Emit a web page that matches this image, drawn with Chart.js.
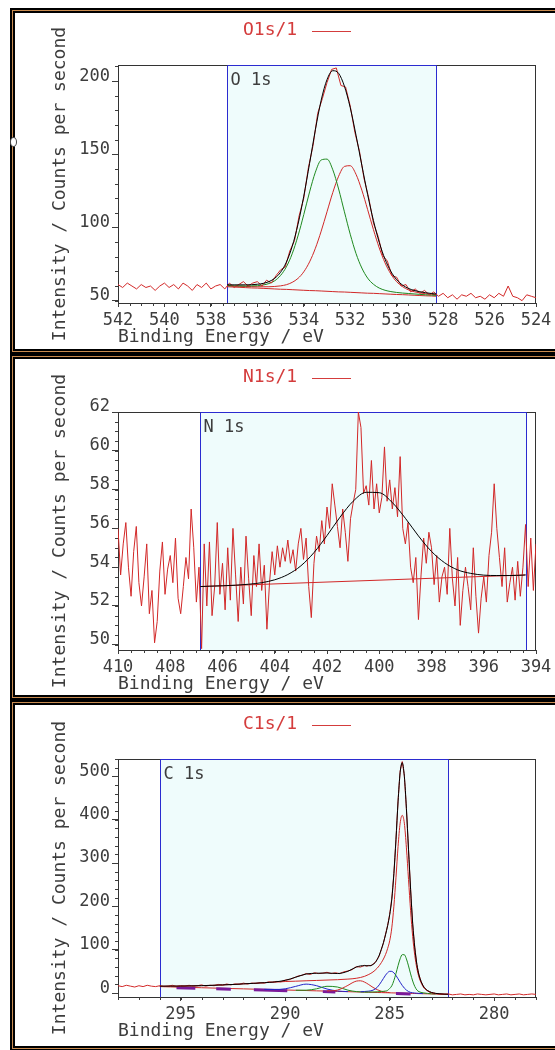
<!DOCTYPE html>
<html lang="en">
<head>
<meta charset="UTF-8" />
<title>XPS O1s / N1s / C1s</title>
<script src="https://cdn.jsdelivr.net/npm/chart.js"></script>
<style>
  html, body { margin: 0; padding: 0; background: #fff; }
  body { width: 555px; height: 1050px; overflow: hidden; position: relative; }
  .panel {
    position: absolute; left: 10px; width: 580px; box-sizing: border-box;
    border: 2px solid #000;
    box-shadow: inset 0 0 0 1px #c98b4f, inset 0 0 0 3px #000;
    background: #fff;
  }
  canvas { position: absolute; left: 17px; }
  .mark {
    position: absolute; left: 10px; top: 137px; width: 5px; height: 8px;
    border: 1px solid #444; border-radius: 50%; background: #fff;
  }
</style>
</head>
<body>
<div class="panel" style="top: 8px; height: 346px"></div>
<div class="panel" style="top: 354px; height: 346px"></div>
<div class="panel" style="top: 700px; height: 351px"></div>
<div class="mark"></div>
<canvas id="o1sChart" width="538" height="336" style="top: 16px"></canvas>
<canvas id="n1sChart" width="538" height="336" style="top: 363px"></canvas>
<canvas id="c1sChart" width="538" height="336" style="top: 710px"></canvas>

<script>
// ---------- O 1s ----------
const o1sRegion = [537.3, 528.3];
const o1sEnergy = [
  542.0, 541.8, 541.6, 541.4, 541.2, 541.0, 540.8, 540.6, 540.4, 540.2,
  540.0, 539.8, 539.6, 539.4, 539.2, 539.0, 538.8, 538.6, 538.4, 538.2,
  538.0, 537.8, 537.6, 537.4, 537.2, 537.0, 536.8, 536.6, 536.4, 536.2,
  536.0, 535.8, 535.6, 535.4, 535.2, 535.0, 534.8, 534.6, 534.4, 534.2,
  534.0, 533.8, 533.6, 533.4, 533.2, 533.0, 532.8, 532.6, 532.4, 532.2,
  532.0, 531.8, 531.6, 531.4, 531.2, 531.0, 530.8, 530.6, 530.4, 530.2,
  530.0, 529.8, 529.6, 529.4, 529.2, 529.0, 528.8, 528.6, 528.4, 528.2,
  528.0, 527.8, 527.6, 527.4, 527.2, 527.0, 526.8, 526.6, 526.4, 526.2,
  526.0, 525.8, 525.6, 525.4, 525.2, 525.0, 524.8, 524.6, 524.4, 524.2,
  524.0
];
const o1sCounts = [
  61, 59, 62, 60, 58, 61, 59, 60, 57, 60,
  62, 59, 61, 58, 62, 60, 57, 61, 59, 62,
  58, 60, 61, 58, 62, 59, 61, 63, 60, 62,
  63, 60, 64, 62, 67, 71, 73, 84, 91, 108,
  120, 141, 156, 178, 188, 199, 208, 209, 197, 196,
  183, 165, 152, 133, 120, 103, 94, 81, 77, 67,
  66, 60, 61, 56, 58, 55, 57, 54, 56, 53,
  55, 52, 54, 51, 54, 53, 55, 52, 53, 51,
  54, 52, 55, 53, 60, 53, 52, 50, 54, 53,
  52
];
const o1sFitEnergy = [
  537.3, 537.0, 536.75, 536.5, 536.25, 536.0, 535.75, 535.5, 535.25, 535.0,
  534.75, 534.5, 534.25, 534.0, 533.75, 533.5, 533.25, 533.0, 532.75, 532.5,
  532.25, 532.0, 531.75, 531.5, 531.25, 531.0, 530.75, 530.5, 530.25, 530.0,
  529.75, 529.5, 529.25, 529.0, 528.75, 528.5, 528.3
];
const o1sBackground = [
  59.5, 59.3, 59.1, 58.9, 58.7, 58.6, 58.4, 58.2, 58.0, 57.8,
  57.7, 57.5, 57.3, 57.1, 56.9, 56.8, 56.6, 56.4, 56.2, 56.0,
  55.9, 55.7, 55.5, 55.3, 55.1, 55.0, 54.8, 54.6, 54.4, 54.2,
  54.1, 53.9, 53.7, 53.5, 53.3, 53.2, 53.0
];
const o1sPeakHigh = [
  60.3, 60.1, 60.1, 60.0, 60.1, 60.2, 60.7, 61.7, 63.6, 67.2,
  73.1, 82.0, 94.2, 108.8, 124.3, 137.8, 146.1, 146.7, 139.4, 126.3,
  110.7, 95.4, 82.2, 72.3, 65.4, 61.2, 58.6, 57.1, 56.2, 55.6,
  55.2, 54.9, 54.6, 54.3, 54.0, 53.8, 53.6
];
const o1sPeakLow = [
  60.1, 59.9, 59.8, 59.7, 59.6, 59.5, 59.5, 59.5, 59.7, 60.1,
  60.9, 62.5, 65.2, 69.7, 76.5, 85.8, 97.5, 110.7, 123.9, 135.0,
  141.7, 142.2, 136.3, 125.5, 112.2, 98.5, 86.0, 75.8, 68.2, 62.9,
  59.6, 57.4, 56.1, 55.3, 54.7, 54.3, 54.0
];
const o1sEnvelope = [
  60.8, 60.8, 60.8, 60.8, 60.9, 61.2, 61.8, 63.0, 65.3, 69.4,
  76.3, 87.0, 102.1, 121.4, 143.8, 166.8, 187.0, 201.0, 207.1, 205.3,
  196.5, 181.9, 163.0, 142.5, 122.5, 104.7, 89.8, 78.3, 70.0, 64.3,
  60.7, 58.4, 57.0, 56.1, 55.4, 54.9, 54.5
];

// ---------- N 1s ----------
const n1sRegion = [406.85, 394.4];
const n1sEnergy = [
  410.0, 409.9, 409.8, 409.7, 409.6, 409.5, 409.4, 409.3, 409.2, 409.1,
  409.0, 408.9, 408.8, 408.7, 408.6, 408.5, 408.4, 408.3, 408.2, 408.1,
  408.0, 407.9, 407.8, 407.7, 407.6, 407.5, 407.4, 407.3, 407.2, 407.1,
  407.0, 406.9, 406.8, 406.7, 406.6, 406.5, 406.4, 406.3, 406.2, 406.1,
  406.0, 405.9, 405.8, 405.7, 405.6, 405.5, 405.4, 405.3, 405.2, 405.1,
  405.0, 404.9, 404.8, 404.7, 404.6, 404.5, 404.4, 404.3, 404.2, 404.1,
  404.0, 403.9, 403.8, 403.7, 403.6, 403.5, 403.4, 403.3, 403.2, 403.1,
  403.0, 402.9, 402.8, 402.7, 402.6, 402.5, 402.4, 402.3, 402.2, 402.1,
  402.0, 401.9, 401.8, 401.7, 401.6, 401.5, 401.4, 401.3, 401.2, 401.1,
  401.0, 400.9, 400.8, 400.7, 400.6, 400.5, 400.4, 400.3, 400.2, 400.1,
  400.0, 399.9, 399.8, 399.7, 399.6, 399.5, 399.4, 399.3, 399.2, 399.1,
  399.0, 398.9, 398.8, 398.7, 398.6, 398.5, 398.4, 398.3, 398.2, 398.1,
  398.0, 397.9, 397.8, 397.7, 397.6, 397.5, 397.4, 397.3, 397.2, 397.1,
  397.0, 396.9, 396.8, 396.7, 396.6, 396.5, 396.4, 396.3, 396.2, 396.1,
  396.0, 395.9, 395.8, 395.7, 395.6, 395.5, 395.4, 395.3, 395.2, 395.1,
  395.0, 394.9, 394.8, 394.7, 394.6, 394.5, 394.4, 394.3, 394.2, 394.1,
  394.0
];
const n1sCounts = [
  56.0, 53.6, 55.2, 56.3, 54.0, 52.5, 54.8, 56.1, 53.2, 52.0,
  53.5, 55.2, 51.6, 52.8, 50.1, 51.2, 53.8, 55.3, 52.6, 53.9,
  54.6, 53.2, 55.5, 52.4, 51.6, 53.0, 54.5, 53.4, 57.0, 55.0,
  52.2, 54.0, 49.8, 55.2, 52.0, 55.3, 51.5, 53.0, 56.3, 52.6,
  54.2, 51.8, 55.0, 52.3, 56.0, 53.6, 51.2, 54.0, 52.1, 55.6,
  53.4, 51.5, 54.6, 53.0, 55.2, 52.8, 54.1, 50.8, 53.2, 54.8,
  53.6, 55.1, 54.0, 55.0, 54.3, 55.4, 54.2, 54.9, 53.8, 55.2,
  56.0, 54.4, 55.5, 53.0, 51.4, 54.2, 55.6, 54.8, 56.4, 55.2,
  57.1, 56.0, 58.3, 57.2, 56.1, 55.0, 57.0, 55.8, 54.3, 56.5,
  57.3, 58.0, 62.0, 61.2, 57.8, 58.2, 57.2, 59.5, 57.0, 58.3,
  56.8, 57.6, 60.2, 57.4, 58.5, 57.0, 58.1, 56.6, 59.7, 56.0,
  55.2, 56.3, 54.0, 53.2, 54.5, 51.3, 53.6, 55.5, 54.2, 55.8,
  55.0, 53.1, 54.6, 52.2, 53.5, 54.0, 52.6, 56.0, 53.4, 52.0,
  54.5, 51.0, 52.8, 54.0, 53.0, 51.8, 55.0, 52.5, 50.6, 52.4,
  53.5, 52.2, 54.6, 55.8, 58.3, 56.0, 54.5, 53.0, 55.0, 52.2,
  53.2, 54.0, 52.3, 54.3, 52.5, 54.0, 56.2, 53.0, 55.5, 52.8,
  55.2
];
const n1sFitEnergy = [
  406.85, 406.5, 406.0, 405.5, 405.0, 404.5, 404.0, 403.5, 403.0, 402.5,
  402.0, 401.5, 401.0, 400.5, 400.0, 399.5, 399.0, 398.5, 398.0, 397.5,
  397.0, 396.5, 396.0, 395.5, 395.0, 394.5, 394.4
];
const n1sEnvelope = [
  53.0, 53.02, 53.04, 53.07, 53.12, 53.2, 53.35, 53.62, 54.07, 54.75,
  55.63, 56.58, 57.4, 57.86, 57.84, 57.33, 56.52, 55.61, 54.81, 54.23,
  53.86, 53.68, 53.59, 53.57, 53.57, 53.59, 53.6
];
const n1sBgEnergy = [406.85, 394.4];
const n1sBackground = [53.0, 53.6];

// ---------- C 1s ----------
const c1sRegion = [296.0, 282.2];
const c1sEnergy = [
  298.0, 297.8, 297.6, 297.4, 297.2, 297.0, 296.8, 296.6, 296.4, 296.2,
  296.0, 295.8, 295.6, 295.4, 295.2, 295.0, 294.8, 294.6, 294.4, 294.2,
  294.0, 293.8, 293.6, 293.4, 293.2, 293.0, 292.8, 292.6, 292.4, 292.2,
  292.0, 291.8, 291.6, 291.4, 291.2, 291.0, 290.8, 290.6, 290.4, 290.2,
  290.0, 289.8, 289.6, 289.4, 289.2, 289.0, 288.8, 288.6, 288.4, 288.2,
  288.0, 287.8, 287.6, 287.4, 287.2, 287.0, 286.8, 286.6, 286.4, 286.2,
  286.1, 286.0, 285.9, 285.8, 285.7, 285.6, 285.5, 285.4, 285.3, 285.2,
  285.1, 285.0, 284.9, 284.8, 284.7, 284.6, 284.5, 284.4, 284.3, 284.2,
  284.1, 284.0, 283.9, 283.8, 283.7, 283.6, 283.5, 283.4, 283.3, 283.2,
  283.1, 283.0,
  282.8, 282.6, 282.4, 282.2, 282.0, 281.8, 281.6, 281.4, 281.2, 281.0,
  280.8, 280.6, 280.4, 280.2, 280.0, 279.8, 279.6, 279.4, 279.2, 279.0,
  278.8, 278.6, 278.4, 278.2, 278.0
];
const c1sCounts = [
  17, 15, 18, 16, 14, 17, 15, 18, 16, 15,
  17, 15, 16, 18, 15, 17, 16, 18, 16, 17,
  19, 16, 18, 17, 20, 18, 21, 19, 21, 20,
  23, 21, 23, 22, 24, 23, 26, 25, 27, 26,
  30, 31, 35, 39, 41, 45, 43, 47, 45, 46,
  48, 45, 47, 45, 49, 51, 54, 61, 60, 64,
  62, 64, 63, 67, 70, 78, 86, 101, 115, 136,
  156, 182, 218, 276, 355, 444, 512, 534, 502, 424,
  330, 240, 158, 106, 66, 42, 27, 17, 10, 6,
  3, 1,
  -1, -2, -3, -2, -4, -3, -2, -4, -3, -4,
  -2, -3, -4, -3, -2, -4, -3, -2, -4, -3,
  -2, -4, -3, -2, -3
];
const c1sFitEnergy = [
  296.0, 295.5, 295.0, 294.5, 294.0, 293.5, 293.0, 292.5, 292.0, 291.5,
  291.0, 290.5, 290.0, 289.5, 289.0, 288.5, 288.0, 287.5, 287.0, 286.8,
  286.6, 286.4, 286.2, 286.0, 285.8, 285.6, 285.4, 285.2, 285.1, 285.0,
  284.9, 284.8, 284.7, 284.6, 284.5, 284.4, 284.3, 284.2, 284.1, 284.0,
  283.9, 283.8, 283.7, 283.6, 283.4, 283.2, 283.0, 282.8, 282.6, 282.4,
  282.2
];
const c1sBackground = [
  15.0, 14.3, 13.7, 13.0, 12.4, 11.7, 11.1, 10.4, 9.8, 9.1,
  8.5, 7.8, 7.2, 6.5, 5.9, 5.2, 4.6, 3.9, 3.3, 3.0,
  2.7, 2.5, 2.2, 2.0, 1.7, 1.4, 1.2, 0.9, 0.8, 0.7,
  0.5, 0.4, 0.3, 0.1, 0.0, -0.1, -0.3, -0.4, -0.5, -0.7,
  -0.8, -0.9, -1.0, -1.2, -1.4, -1.7, -2.0, -2.2, -2.5, -2.7,
  -3.0
];
const c1sMainPeak = [
  16.0, 16.1, 16.3, 16.6, 17.2, 17.9, 18.9, 19.9, 21.3, 22.6,
  24.0, 25.3, 26.7, 27.5, 28.4, 29.2, 30.1, 30.9, 32.3, 33.0,
  34.2, 36.0, 38.7, 43.0, 48.7, 57.4, 70.2, 88.9, 102.8, 120.7,
  150.5, 200.4, 266.0, 338.0, 392.0, 410.0, 392.0, 335.0, 262.0, 190.0,
  130.2, 87.1, 57.0, 36.8, 14.6, 5.3, 1.0, -0.7, -1.7, -2.3,
  -2.8
];
const c1sEnvelope = [
  16.0, 16.1, 16.3, 16.6, 17.2, 17.9, 18.9, 19.9, 21.3, 22.6,
  24.0, 25.8, 29.4, 36.6, 44.0, 45.8, 46.3, 45.1, 50.4, 55.3,
  59.9, 62.7, 63.3, 63.1, 66.0, 77.2, 100.8, 134.4, 155.4, 180.7,
  216.4, 275.3, 353.7, 441.2, 509.2, 531.5, 500.3, 426.1, 331.9, 238.6,
  160.3, 104.4, 65.9, 41.8, 16.8, 6.3, 1.5, -0.7, -1.7, -2.3,
  -2.8
];
const c1sGreenEnergy = [
  286.2, 286.0, 285.8, 285.6, 285.4, 285.2, 285.1, 285.0, 284.9, 284.8,
  284.7, 284.6, 284.5, 284.4, 284.3, 284.2, 284.1, 284.0, 283.9, 283.8,
  283.7, 283.6, 283.4, 283.2, 283.0, 282.8
];
const c1sGreenPeak = [
  2.3, 2.3, 2.5, 2.9, 3.7, 4.7, 6.3, 10.7, 16.8, 29.0,
  45.3, 63.3, 79.2, 88.7, 88.5, 78.8, 62.7, 44.3, 27.8, 15.4,
  7.2, 3.3, 0.6, -0.7, -1.5, -2.0
];
const c1sBlueEnergy = [
  286.4, 286.2, 286.0, 285.8, 285.6, 285.4, 285.2, 285.1, 285.0, 284.9,
  284.8, 284.7, 284.6, 284.5, 284.4, 284.3, 284.2, 284.1, 284.0, 283.9,
  283.8, 283.7, 283.6, 283.4
];
const c1sBluePeak = [
  3.0, 3.7, 4.5, 6.7, 13.2, 26.2, 41.3, 47.1, 50.3, 50.1,
  46.7, 40.7, 33.0, 25.0, 17.7, 11.5, 6.9, 3.7, 1.6, 0.7,
  0.1, -0.3, -0.7, -1.2
];
const c1sHumpEnergy = [288.0, 287.5, 287.0, 286.8, 286.6, 286.4, 286.2, 286.0, 285.8, 285.6, 285.4, 285.2, 285.1, 285.0];
const c1sHumpPeak = [4.9, 7.0, 17.8, 23.5, 27.6, 28.4, 25.3, 19.6, 13.2, 7.9, 4.3, 2.2, 1.6, 1.1];
const c1sSmallGreenEnergy = [289.5, 289.0, 288.5, 288.0, 287.5, 287.0, 286.8, 286.6, 286.4, 286.2];
const c1sSmallGreenPeak = [6.6, 6.7, 9.9, 15.7, 14.0, 6.8, 4.8, 3.5, 2.8, 2.3];
const c1sSmallBlueEnergy = [291.0, 290.5, 290.0, 289.5, 289.0, 288.5, 288.0, 287.5, 287.0];
const c1sSmallBluePeak = [8.6, 8.3, 9.9, 15.5, 20.7, 17.1, 9.4, 4.9, 3.4];
const c1sOverlapEnergy = [295.2, 294.3, 294.2, 293.3, 292.6, 292.5, 291.5, 289.9, 289.8, 288.2, 287.6, 287.5, 284.7, 284.0];
const c1sOverlap = [12.5, 11.3, null, 10.0, 9.1, null, 7.6, 5.5, null, 3.4, 2.5, null, -1.2, -2.2];

// ---------- drawing ----------
const INK = "#3d3d3d";
const RED = "#d22828";
const GREEN = "#1f8a1f";
const BLUE = "#2424c8";
const MONO = "'DejaVu Sans Mono', monospace";

const pts = (xs, ys) => xs.map((x, i) => ({ x: x, y: ys[i] }));

function line(data, color, smooth, width) {
  return {
    data: data,
    borderColor: color,
    borderWidth: width || 1,
    pointRadius: 0,
    fill: false,
    cubicInterpolationMode: smooth ? "monotone" : "default",
    tension: 0,
  };
}

// labelled ticks only at whole multiples of the step
function stepTicks(step) {
  return (s) => {
    const out = [];
    for (let i = Math.ceil(s.min / step - 1e-9); i * step <= s.max + 1e-9; i++) {
      out.push({ value: +(i * step).toFixed(6) });
    }
    s.ticks = out;
  };
}

// shaded fit region, plot frame and the region name
const fitRegion = {
  id: "fitRegion",
  beforeDatasetsDraw(chart, args, opts) {
    const { ctx, chartArea: a } = chart;
    const x = chart.scales.x;
    const p1 = Math.round(x.getPixelForValue(opts.from)) + 0.5;
    const p2 = Math.round(x.getPixelForValue(opts.to)) + 0.5;
    const l = Math.min(p1, p2);
    const r = Math.max(p1, p2);
    ctx.save();
    ctx.fillStyle = "#effcfc";
    ctx.fillRect(l, a.top, r - l, a.bottom - a.top);
    ctx.strokeStyle = "#333";
    ctx.lineWidth = 1;
    ctx.strokeRect(a.left + 0.5, a.top + 0.5, a.right - a.left - 1, a.bottom - a.top);
    ctx.strokeStyle = "#2b2bd0";
    ctx.beginPath();
    ctx.moveTo(l, a.bottom);
    ctx.lineTo(l, a.top + 0.5);
    ctx.lineTo(r, a.top + 0.5);
    ctx.lineTo(r, a.bottom);
    ctx.stroke();
    ctx.fillStyle = INK;
    ctx.font = "17px " + MONO;
    ctx.textBaseline = "alphabetic";
    ctx.fillText(opts.label, l + 3, a.top + 20);
    ctx.restore();
  },
};

// red "O1s/1 ——" caption above each plot and the energy axis title
const panelTitle = {
  id: "panelTitle",
  afterDraw(chart, args, opts) {
    const { ctx, chartArea: a } = chart;
    ctx.save();
    ctx.fillStyle = "#d43c3c";
    ctx.font = "18px " + MONO;
    ctx.textBaseline = "middle";
    ctx.fillText(opts.text, 226, 14);
    ctx.strokeStyle = "#d43c3c";
    ctx.lineWidth = 1;
    ctx.beginPath();
    ctx.moveTo(295, 15.5);
    ctx.lineTo(334, 15.5);
    ctx.stroke();
    ctx.fillStyle = INK;
    ctx.textAlign = "left";
    ctx.fillText("Binding Energy / eV", a.left, a.bottom + 34);
    ctx.restore();
  },
};

// short minor tick marks between the labelled ones
const minorTicks = {
  id: "minorTicks",
  afterDraw(chart, args, opts) {
    const { ctx, chartArea: a } = chart;
    const { x, y } = chart.scales;
    ctx.save();
    ctx.strokeStyle = INK;
    ctx.lineWidth = 1;
    ctx.beginPath();
    for (let i = Math.ceil(x.min / opts.x - 1e-9); i * opts.x <= x.max + 1e-9; i++) {
      const p = Math.round(x.getPixelForValue(i * opts.x)) + 0.5;
      ctx.moveTo(p, a.bottom);
      ctx.lineTo(p, a.bottom + 3);
    }
    for (let i = Math.ceil(y.min / opts.y - 1e-9); i * opts.y <= y.max + 1e-9; i++) {
      const p = Math.round(y.getPixelForValue(i * opts.y)) + 0.5;
      ctx.moveTo(a.left, p);
      ctx.lineTo(a.left - 3, p);
    }
    ctx.stroke();
    ctx.restore();
  },
};

function spectrumChart(id, p) {
  const ctx = document.getElementById(id).getContext("2d");
  return new Chart(ctx, {
    type: "line",
    data: { datasets: p.datasets },
    options: {
      responsive: false,
      animation: false,
      devicePixelRatio: 1,
      layout: { padding: { top: 49, right: 19, left: 0, bottom: 0 } },
      plugins: {
        legend: { display: false },
        tooltip: { enabled: false },
        panelTitle: { text: p.title },
        fitRegion: { from: p.region[0], to: p.region[1], label: p.label },
        minorTicks: { x: p.xMinor, y: p.yMinor },
      },
      scales: {
        x: {
          type: "linear",
          reverse: true,
          min: p.xMin,
          max: p.xMax,
          afterBuildTicks: stepTicks(p.xMajor),
          afterFit: (s) => { s.height = 49; },
          ticks: {
            autoSkip: false, maxRotation: 0, padding: 3, color: INK,
            font: { family: MONO, size: 17 },
          },
          grid: { drawOnChartArea: false, tickLength: 4, color: INK },
          border: { display: false },
        },
        y: {
          type: "linear",
          min: p.yMin,
          max: p.yMax,
          afterBuildTicks: stepTicks(p.yMajor),
          afterFit: (s) => { s.width = 101; },
          ticks: {
            padding: 2, labelOffset: -5, color: INK,
            font: { family: MONO, size: 17 },
          },
          grid: { drawOnChartArea: false, tickLength: 6, color: INK },
          border: { display: false },
          title: {
            display: true, text: "Intensity / Counts per second",
            color: INK, font: { family: MONO, size: 18 },
            padding: { top: 33, bottom: 0 },
          },
        },
      },
    },
    plugins: [fitRegion, panelTitle, minorTicks],
  });
}

spectrumChart("o1sChart", {
  title: "O1s/1", label: "O 1s", region: o1sRegion,
  xMin: 524, xMax: 542, xMajor: 2, xMinor: 0.5,
  yMin: 48.4, yMax: 211, yMajor: 50, yMinor: 10,
  datasets: [
    line(pts(o1sFitEnergy, o1sEnvelope), "#000", true),
    line(pts(o1sEnergy, o1sCounts), RED, false),
    line(pts(o1sFitEnergy, o1sPeakHigh), GREEN, true),
    line(pts(o1sFitEnergy, o1sPeakLow), RED, true),
    line(pts(o1sFitEnergy, o1sBackground), RED, false),
  ],
});

spectrumChart("n1sChart", {
  title: "N1s/1", label: "N 1s", region: n1sRegion,
  xMin: 394, xMax: 410, xMajor: 2, xMinor: 0.5,
  yMin: 49.73, yMax: 62, yMajor: 2, yMinor: 0.5,
  datasets: [
    line(pts(n1sFitEnergy, n1sEnvelope), "#000", true),
    line(pts(n1sBgEnergy, n1sBackground), RED, false),
    line(pts(n1sEnergy, n1sCounts), RED, false),
  ],
});

spectrumChart("c1sChart", {
  title: "C1s/1", label: "C 1s", region: c1sRegion,
  xMin: 278, xMax: 298, xMajor: 5, xMinor: 1,
  yMin: -9, yMax: 540, yMajor: 100, yMinor: 20,
  datasets: [
    line(pts(c1sFitEnergy, c1sEnvelope), "#000", true),
    line(pts(c1sEnergy, c1sCounts), RED, false),
    line(pts(c1sFitEnergy, c1sMainPeak), RED, true),
    line(pts(c1sGreenEnergy, c1sGreenPeak), GREEN, true),
    line(pts(c1sBlueEnergy, c1sBluePeak), BLUE, true),
    line(pts(c1sHumpEnergy, c1sHumpPeak), RED, true),
    line(pts(c1sSmallGreenEnergy, c1sSmallGreenPeak), GREEN, true),
    line(pts(c1sSmallBlueEnergy, c1sSmallBluePeak), BLUE, true),
    line(pts(c1sOverlapEnergy, c1sOverlap), "#7a1a9a", false, 3),
    line(pts(c1sFitEnergy, c1sBackground), RED, false),
  ],
});
</script>
</body>
</html>
